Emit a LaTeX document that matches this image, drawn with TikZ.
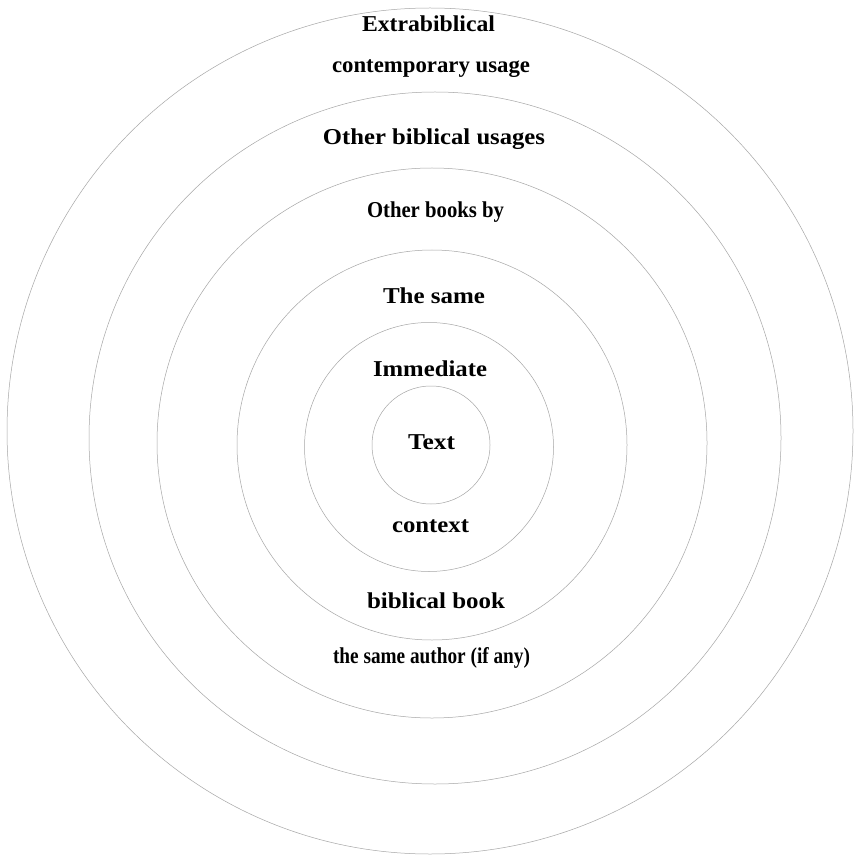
\documentclass[tikz,border=0pt]{standalone}
\usepackage{fontspec}
\setmainfont{Liberation Serif}
\usepackage{graphicx}
\begin{document}
\begin{tikzpicture}[x=1pt,y=-1pt,
  ring/.style={draw=black!35, line width=0.5pt, circle, inner sep=0pt, minimum size=#1},
  lbl/.style={anchor=base, inner sep=0pt, font=\fontsize{22.7}{26}\selectfont\bfseries, text=black}]
\useasboundingbox (0,0) rectangle (856,858);
\fill[white] (0,0) rectangle (856,858);
% rings
\node[ring=846pt] (r6) at (430,431) {};
\node[ring=692pt] (r5) at (435,438) {};
\node[ring=550pt] (r4) at (432,443) {};
\node[ring=390pt] (r3) at (432,445) {};
\node[ring=249pt] (r2) at (429,447) {};
\node[ring=118pt] (r1) at (431,445) {};
% labels
\node[lbl] (t1) at (428.5,32) {\resizebox{133pt}{\height}{Extrabiblical}};
\node[lbl] (t2) at (431,73) {\resizebox{198pt}{\height}{contemporary usage}};
\node[lbl] (t3) at (434,145) {\resizebox{222pt}{\height}{Other biblical usages}};
\node[lbl] (t4) at (435.5,218) {\resizebox{137pt}{\height}{Other books by}};
\node[lbl] (t5) at (434,304) {\resizebox{102pt}{\height}{The same}};
\node[lbl] (t6) at (430,376) {\resizebox{114pt}{\height}{Immediate}};
\node[lbl] (t7) at (431.5,449) {\resizebox{47pt}{\height}{Text}};
\node[lbl] (t8) at (430.5,532) {\resizebox{77pt}{\height}{context}};
\node[lbl] (t9) at (436,608) {\resizebox{138pt}{\height}{biblical book}};
\node[lbl] (t10) at (431.5,663) {\resizebox{197pt}{\height}{the same author (if any)}};
\end{tikzpicture}
\end{document}
